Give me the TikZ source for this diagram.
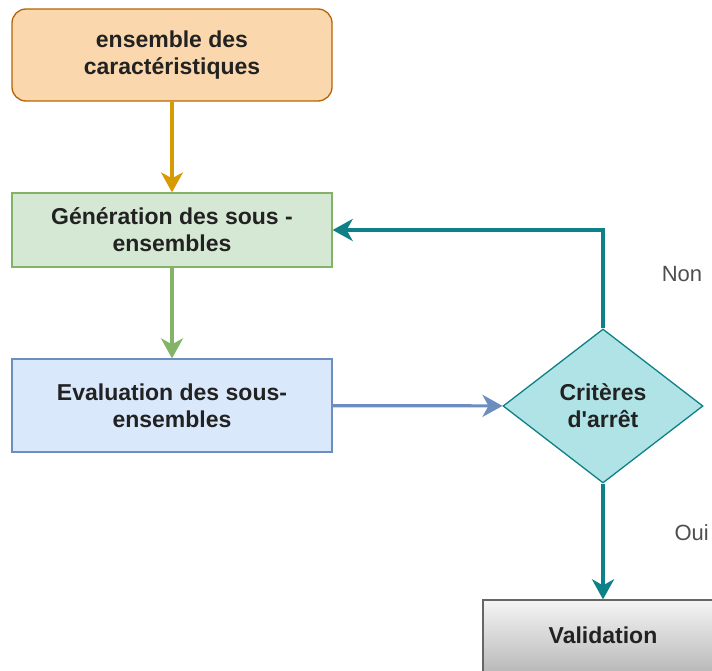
\documentclass[tikz,border=0pt]{standalone}
\usepackage{fontspec}
\setmainfont{Liberation Sans}
\usetikzlibrary{shapes.geometric,arrows.meta}
\definecolor{orfill}{HTML}{FAD7AC}
\definecolor{ordraw}{HTML}{B46504}
\definecolor{orline}{HTML}{D79B00}
\definecolor{grfill}{HTML}{D5E8D4}
\definecolor{grdraw}{HTML}{82B366}
\definecolor{blfill}{HTML}{DAE8FC}
\definecolor{bldraw}{HTML}{6C8EBF}
\definecolor{tefill}{HTML}{B0E3E6}
\definecolor{tedraw}{HTML}{0E8088}
\definecolor{txt}{HTML}{222222}
\tikzset{
  box/.style={minimum width=320pt, inner sep=0pt, align=center, text=txt,
    font=\fontsize{23pt}{27pt}\selectfont\bfseries, line width=1.3pt},
  lbl/.style={font=\fontsize{22pt}{26pt}\selectfont, text=txt!80},
  conn/.style={-{Stealth[length=20pt,width=22pt,inset=6pt]}, line width=3.2pt},
}
\begin{document}
\begin{tikzpicture}[x=1pt,y=-1pt]
\useasboundingbox (0,0) rectangle (712,671);
\clip (0,0) rectangle (712,671);
\node[box, draw=ordraw, fill=orfill, rounded corners=14pt, minimum height=92pt] (a) at (172,55) {ensemble des\\caractéristiques};
\node[box, draw=grdraw, fill=grfill, minimum height=74pt] (b) at (172,230) {Génération des sous -\\ensembles};
\node[box, draw=bldraw, fill=blfill, minimum height=93pt] (c) at (172,405.5) {Evaluation des sous-\\ensembles};
\node[diamond, shape aspect=1.3, draw=tedraw, fill=tefill, line width=1.3pt, minimum width=200pt, minimum height=154pt, inner sep=0pt, align=center, text=txt, font=\fontsize{23pt}{27pt}\selectfont\bfseries] (d) at (603,406) {Critères\\d\textquotesingle arrêt};
\node[box, draw=black!60, top color=black!4, bottom color=black!30, minimum width=240pt, minimum height=80pt] (e) at (603,640) {\raisebox{9pt}{Validation}};
\draw[conn, color=orline] (a) -- (b);
\draw[conn, color=grdraw] (b) -- (c);
\draw[conn, color=bldraw] (c) -- (d);
\draw[conn, color=tedraw, line width=3.6pt] (d.north) |- (b.east);
\draw[conn, color=tedraw, line width=3.6pt] (d.south) -- (e.north);
\node[lbl] (non) at (682,274) {Non};
\node[lbl, anchor=west] (oui) at (671,533) {Oui};
\end{tikzpicture}
\end{document}
